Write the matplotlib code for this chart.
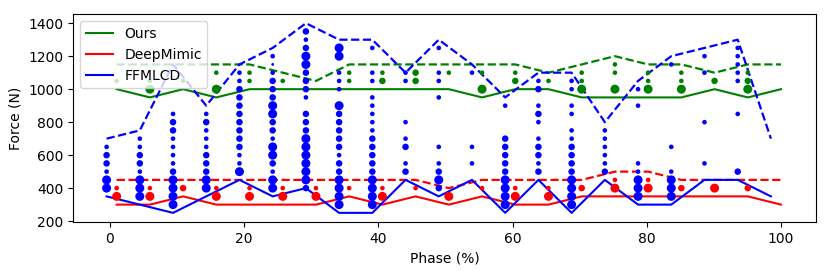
import matplotlib
matplotlib.use("Agg")
import matplotlib.pyplot as plt
from matplotlib.lines import Line2D

# phase positions of the 21 sampled columns (%)
phases = [0, 4.95, 9.9, 14.85, 19.8, 24.75, 29.7, 34.65, 39.6, 44.55, 49.5,
          54.45, 59.4, 64.35, 69.3, 74.25, 79.2, 84.15, 89.1, 94.05, 99.0]

# per-phase force histograms: {force (N): relative count}
ours_pts = [
    {1050: 2}, {1050: 2, 1000: 4}, {1050: 2}, {1100: 2, 1000: 4},
    {1100: 2, 1050: 2}, {1050: 2}, {}, {1100: 2, 1050: 2},
    {1100: 2, 1050: 3}, {1100: 3, 1050: 3}, {1100: 2}, {1100: 2, 1000: 4},
    {1100: 2, 1050: 3}, {1050: 2}, {1100: 2, 1050: 2, 1000: 4},
    {1150: 2, 1100: 2, 1000: 4}, {1100: 2, 1050: 2, 1000: 4},
    {1100: 2, 1050: 2, 1000: 4}, {1050: 3}, {1100: 2, 1050: 3, 1000: 4}, {},
]
deepmimic_pts = [
    {400: 2, 350: 4}, {400: 2, 350: 4}, {400: 3}, {400: 2, 350: 4},
    {400: 2, 350: 4}, {400: 2, 350: 4}, {400: 2, 350: 4}, {400: 2},
    {400: 2, 350: 4}, {400: 2}, {350: 4}, {400: 2}, {400: 2, 350: 4},
    {400: 2, 350: 4}, {400: 3}, {450: 2, 400: 4}, {450: 2, 400: 4},
    {400: 3}, {400: 4}, {400: 3}, {},
]
ffmlcd_pts = [
    {650: 2, 600: 3, 550: 3, 500: 2, 450: 4, 400: 4},
    {700: 2, 650: 2, 600: 3, 550: 3, 500: 2, 450: 4, 400: 4, 350: 4},
    {850: 2, 800: 3, 750: 3, 700: 2, 650: 2, 600: 2, 550: 2, 500: 3, 450: 4,
     400: 4, 350: 4, 300: 4},
    {850: 2, 800: 3, 750: 2, 700: 2, 650: 2, 600: 3, 550: 3, 500: 3, 450: 4,
     400: 4},
    {1100: 2, 1050: 2, 1000: 3, 950: 3, 900: 3, 850: 3, 800: 3, 750: 3,
     700: 3, 650: 3, 600: 2, 550: 2, 500: 4},
    {1200: 2, 1150: 1, 1100: 2, 1050: 3, 1000: 3, 950: 3, 900: 4, 850: 4,
     800: 3, 750: 3, 700: 2, 650: 4, 600: 4, 550: 3, 500: 2, 450: 4, 400: 4},
    {1350: 3, 1300: 2, 1250: 3, 1200: 4, 1150: 4, 1100: 3, 1050: 3, 1000: 3,
     950: 2, 850: 3, 800: 3, 750: 3, 700: 4, 650: 4, 600: 4, 550: 4, 500: 4,
     450: 4, 400: 3},
    {1250: 4, 1200: 4, 1100: 2, 1050: 2, 1000: 2, 900: 4, 850: 3, 800: 3,
     750: 3, 700: 3, 650: 3, 600: 2, 550: 3, 500: 3, 450: 4, 400: 4, 350: 4,
     300: 4},
    {1250: 2, 1100: 2, 1050: 2, 950: 2, 900: 2, 850: 2, 800: 2, 750: 2,
     700: 3, 650: 3, 600: 3, 550: 3, 500: 3, 450: 4, 400: 4, 350: 4, 300: 4},
    {1100: 2, 1050: 2, 800: 2, 700: 2, 650: 3, 550: 2, 500: 3},
    {1250: 2, 1100: 2, 1050: 2, 950: 2, 650: 2, 550: 2, 500: 3, 450: 4,
     400: 3},
    {1100: 2, 650: 2, 550: 2},
    {900: 2, 700: 3, 650: 3, 600: 3, 550: 3, 500: 3, 450: 4, 400: 4, 350: 4,
     300: 4},
    {1050: 2, 1000: 3, 900: 2, 850: 3, 800: 2, 700: 2, 650: 3, 600: 3,
     550: 2, 500: 3},
    {1050: 2, 1000: 2, 900: 2, 850: 2, 750: 2, 700: 2, 650: 3, 600: 3,
     550: 3, 500: 3, 450: 4, 400: 4, 350: 4, 300: 4},
    {750: 2, 700: 2, 650: 2, 600: 2, 550: 2, 500: 3},
    {1000: 2, 900: 2, 550: 2, 500: 2, 450: 4, 400: 4, 350: 4},
    {1150: 2, 650: 2, 500: 2, 450: 4, 400: 4, 350: 4},
    {1200: 2, 1100: 2, 800: 2, 550: 2},
    {1250: 2, 1200: 2, 1150: 2, 1100: 2, 1050: 2, 850: 2, 500: 3},
    {},
]

# lower (solid) and upper (dashed) envelopes
ours_low = [1000, 950, 1000, 950, 1000, 1000, 1000, 1000, 1000, 1000, 1000,
            950, 1000, 1000, 950, 950, 950, 950, 1000, 950, 1000]
ours_high = [1150, 1150, 1150, 1150, 1150, 1100, 1050, 1150, 1150, 1150, 1150,
             1150, 1150, 1100, 1150, 1200, 1150, 1150, 1100, 1150, 1150]
dm_low = [300, 300, 350, 300, 300, 300, 300, 350, 300, 350, 300,
          350, 300, 300, 350, 350, 350, 350, 350, 350, 300]
dm_high = [450, 450, 450, 450, 450, 450, 450, 450, 450, 450, 400,
           450, 450, 450, 450, 500, 500, 450, 450, 450, 450]
ff_low = [350, 300, 250, 350, 450, 350, 400, 250, 250, 450, 350,
          450, 250, 450, 250, 450, 300, 300, 450, 450, 350]
ff_high = [700, 750, 1150, 900, 1150, 1250, 1400, 1300, 1300, 1100, 1300,
           1150, 950, 1100, 1100, 800, 1050, 1200, 1250, 1300, 700]

labels = ["Ours", "DeepMimic", "FFMLCD"]
colors = ["green", "red", "blue"]

size_map = {1: 4, 2: 11, 3: 22, 4: 42}

fig = plt.figure(figsize=(8.3, 2.77), dpi=100)
ax = fig.add_axes([0.088, 0.197, 0.895, 0.752])

series = [
    (ours_pts, ours_low, ours_high, "green", 1.0),
    (deepmimic_pts, dm_low, dm_high, "red", 1.0),
    (ffmlcd_pts, ff_low, ff_high, "blue", -0.5),
]

for pts, low, high, col, off in series:
    xs = [p + off for p in phases]
    ax.plot(xs, low, color=col, lw=1.5, zorder=2)
    ax.plot(xs, high, color=col, lw=1.6, ls=(0, (3.7, 1.6)), zorder=2)
    px, py, ps = [], [], []
    for x, col_pts in zip(xs, pts):
        for f, c in col_pts.items():
            px.append(x)
            py.append(f)
            ps.append(size_map[c])
    ax.scatter(px, py, s=ps, color=col, linewidths=0, zorder=3)

ax.set_xlim(-5.5, 105.2)
ax.set_ylim(192, 1455)
ax.set_xticks([0, 20, 40, 60, 80, 100])
ax.set_yticks([200, 400, 600, 800, 1000, 1200, 1400])
ax.set_xlabel("Phase (%)")
ax.set_ylabel("Force (N)")

handles = [Line2D([0], [0], color=c, lw=1.5) for c in colors]
ax.legend(handles, labels, loc="upper left", framealpha=0.8)

fig.savefig("out.png", dpi=100)
